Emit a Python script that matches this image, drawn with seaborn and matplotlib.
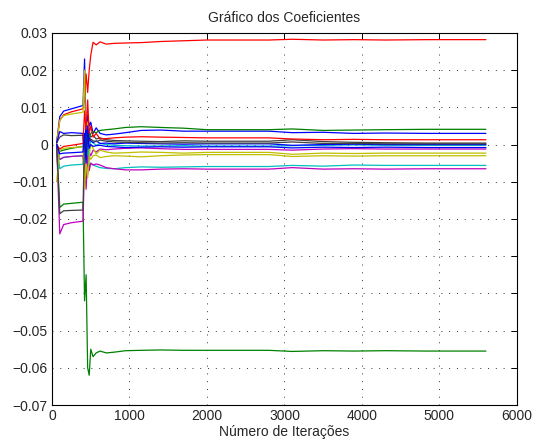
import numpy as np
import pandas as pd
import matplotlib
matplotlib.use("Agg")
import matplotlib.pyplot as plt
import seaborn as sns

iters = [60, 100, 150, 250, 400, 420, 440, 460, 480, 500, 530, 570, 620, 700, 800,
         950, 1150, 1400, 1700, 2000, 2800, 3100, 3500, 3900, 4300, 4850, 5600]

# coefficient trajectories
c01 = [0.0005, 0.0065, 0.0080, 0.0088, 0.0096, 0.0120, 0.0190, 0.0140, 0.0200, 0.0240, 0.0275, 0.0268, 0.0276, 0.0270,
       0.0272, 0.0273, 0.0274, 0.0277, 0.0279, 0.0281, 0.0281, 0.0283, 0.0281, 0.0282, 0.0281, 0.0282, 0.0282]
c02 = [0.0000, -0.0169, -0.0160, -0.0158, -0.0155, -0.0420, -0.0350, -0.0600, -0.0620, -0.0550, -0.0570, -0.0560, -0.0555, -0.0560,
       -0.0558, -0.0554, -0.0553, -0.0552, -0.0553, -0.0553, -0.0553, -0.0556, -0.0554, -0.0555, -0.0554, -0.0555, -0.0555]
c03 = [0.0002, -0.0018, -0.0015, -0.0010, -0.0005, 0.0025, -0.0010, 0.0040, 0.0020, 0.0030, 0.0035, 0.0032, 0.0038, 0.0040,
       0.0042, 0.0046, 0.0048, 0.0046, 0.0044, 0.0040, 0.0040, 0.0042, 0.0038, 0.0039, 0.0040, 0.0041, 0.0041]
c04 = [0.0005, 0.0075, 0.0090, 0.0096, 0.0105, 0.0230, 0.0020, 0.0080, 0.0050, 0.0060, 0.0030, 0.0045, 0.0030, 0.0026,
       0.0028, 0.0032, 0.0038, 0.0039, 0.0036, 0.0036, 0.0036, 0.0032, 0.0033, 0.0030, 0.0031, 0.0030, 0.0030]
c05 = [0.0000, -0.0012, -0.0005, -0.0002, 0.0003, 0.0090, 0.0040, 0.0120, 0.0030, 0.0050, 0.0020, 0.0030, 0.0015, 0.0016,
       0.0018, 0.0020, 0.0021, 0.0020, 0.0019, 0.0018, 0.0018, 0.0015, 0.0013, 0.0014, 0.0013, 0.0013, 0.0013]
c06 = [0.0005, 0.0020, 0.0026, 0.0024, 0.0025, -0.0020, 0.0040, 0.0010, 0.0030, 0.0020, 0.0025, 0.0015, 0.0018, 0.0013,
       0.0011, 0.0010, 0.0009, 0.0008, 0.0010, 0.0009, 0.0009, 0.0013, 0.0008, 0.0006, 0.0005, 0.0004, 0.0004]
c07 = [0.0005, 0.0035, 0.0030, 0.0032, 0.0030, -0.0030, 0.0060, -0.0020, 0.0020, 0.0010, 0.0005, 0.0010, 0.0003, 0.0004,
       0.0002, 0.0004, 0.0003, 0.0002, 0.0001, 0.0002, 0.0002, -0.0002, 0.0000, 0.0001, 0.0000, 0.0000, 0.0000]
c08 = [0.0000, -0.0040, -0.0035, -0.0032, -0.0030, -0.0060, 0.0020, -0.0040, -0.0010, 0.0010, 0.0005, -0.0002, 0.0003, 0.0000,
       -0.0002, -0.0003, -0.0004, -0.0004, -0.0003, -0.0004, -0.0004, -0.0003, -0.0002, -0.0001, -0.0002, -0.0002, -0.0002]
c09 = [0.0000, -0.0025, -0.0023, -0.0022, -0.0020, 0.0030, -0.0050, 0.0050, -0.0010, 0.0000, -0.0005, -0.0003, -0.0002, -0.0005,
       -0.0006, -0.0008, -0.0007, -0.0006, -0.0007, -0.0006, -0.0006, -0.0009, -0.0007, -0.0008, -0.0007, -0.0008, -0.0008]
c10 = [0.0000, -0.0040, -0.0034, -0.0032, -0.0030, -0.0100, -0.0030, -0.0080, -0.0020, -0.0030, -0.0015, -0.0020, -0.0012, -0.0014,
       -0.0012, -0.0010, -0.0009, -0.0011, -0.0013, -0.0013, -0.0013, -0.0015, -0.0012, -0.0011, -0.0012, -0.0012, -0.0012]
c11 = [0.0003, 0.0065, 0.0078, 0.0082, 0.0087, 0.0200, -0.0080, 0.0060, -0.0030, 0.0000, -0.0010, -0.0025, -0.0015, -0.0020,
       -0.0023, -0.0022, -0.0020, -0.0021, -0.0023, -0.0021, -0.0021, -0.0026, -0.0023, -0.0024, -0.0023, -0.0023, -0.0023]
c12 = [-0.0100, -0.0015, -0.0010, -0.0008, -0.0006, -0.0120, -0.0040, -0.0090, -0.0030, -0.0040, -0.0030, -0.0028, -0.0035, -0.0032,
       -0.0030, -0.0031, -0.0033, -0.0030, -0.0028, -0.0027, -0.0027, -0.0032, -0.0030, -0.0031, -0.0030, -0.0030, -0.0030]
c13 = [0.0000, -0.0065, -0.0058, -0.0055, -0.0053, -0.0020, -0.0090, 0.0000, -0.0060, -0.0050, -0.0055, -0.0058, -0.0062, -0.0064,
       -0.0065, -0.0062, -0.0060, -0.0061, -0.0060, -0.0059, -0.0059, -0.0056, -0.0058, -0.0055, -0.0056, -0.0056, -0.0056]
c14 = [0.0000, -0.0240, -0.0215, -0.0210, -0.0206, -0.0050, -0.0120, -0.0030, -0.0070, -0.0050, -0.0055, -0.0052, -0.0055, -0.0062,
       -0.0065, -0.0068, -0.0068, -0.0066, -0.0065, -0.0066, -0.0066, -0.0062, -0.0066, -0.0065, -0.0066, -0.0065, -0.0065]
c15 = [0.0000, -0.0186, -0.0178, -0.0177, -0.0176, 0.0030, -0.0040, 0.0020, 0.0010, 0.0015, 0.0010, 0.0008, 0.0012, 0.0009,
       0.0007, 0.0006, 0.0005, 0.0004, 0.0005, 0.0004, 0.0004, 0.0007, 0.0003, 0.0003, 0.0002, 0.0002, 0.0002]

series = [c04, c02, c01, c08, c10, c11, c06, c07, c03, c05, c13, c14, c12, c15, c09]
names = [f"w{i+1}" for i in range(len(series))]
matlab_cycle = ["#0000ff", "#008000", "#ff0000", "#00bfbf", "#bf00bf", "#bfbf00", "#404040"]
colors = [matlab_cycle[i % 7] for i in range(len(series))]

yticks = [-0.07, -0.06, -0.05, -0.04, -0.03, -0.02, -0.01, 0, 0.01, 0.02, 0.03]
ytick_labels = ["\u22120.07", "\u22120.06", "\u22120.05", "\u22120.04", "\u22120.03", "\u22120.02",
                "\u22120.01", "0", "0.01", "0.02", "0.03"]
xticks = [0, 1000, 2000, 3000, 4000, 5000, 6000]

df = pd.concat([pd.DataFrame({"it": iters, "val": s, "coef": n}) for s, n in zip(series, names)],
               ignore_index=True)

sns.set_style("white")
plt.rcParams["font.family"] = ["Liberation Sans", "DejaVu Sans"]

fig = plt.figure(figsize=(5.39, 4.44), dpi=100)
ax = fig.add_axes([0.0965, 0.0878, 0.8625, 0.838])
sns.lineplot(data=df, x="it", y="val", hue="coef", palette=colors, estimator=None,
             sort=False, linewidth=0.9, legend=False, ax=ax)

ax.set_xlim(0, 6000)
ax.set_ylim(-0.07, 0.03)
ax.set_xticks(xticks)
ax.set_xticklabels([str(v) for v in xticks])
ax.set_yticks(yticks)
ax.set_yticklabels(ytick_labels)
ax.set_xlabel("Número de Iterações", fontsize=10, labelpad=1)
ax.set_ylabel("")
ax.set_title("Gráfico dos Coeficientes", fontsize=10, pad=8)
ax.grid(True, color="black", linestyle=(0, (1, 7)), linewidth=0.7, alpha=0.8)
ax.tick_params(direction="in", length=4, width=0.7, top=True, right=True, labelsize=10, pad=3,
               color="black")
for sp in ax.spines.values():
    sp.set_visible(True)
    sp.set_color("black")
    sp.set_linewidth(0.8)

fig.savefig("out.png", dpi=100)
